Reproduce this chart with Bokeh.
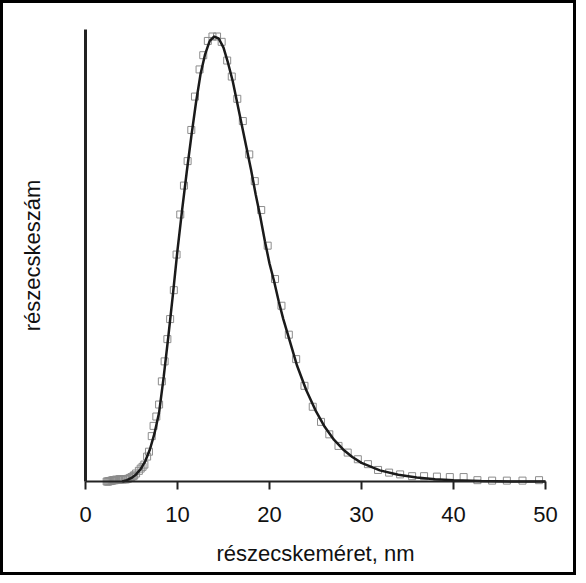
from bokeh.plotting import figure
from bokeh.models import FixedTicker, Range1d
from bokeh.embed import file_html
from bokeh.resources import INLINE

# measured particle-size distribution (squares), log-spaced sizes in nm
size_nm = [2.3, 2.4, 2.5, 2.6, 2.7, 2.8, 2.9, 3.0, 3.1, 3.2, 3.3, 3.4, 3.6, 3.7, 3.8,
           4.0, 4.1, 4.3, 4.4, 4.6, 4.8, 5.0, 5.2, 5.3, 5.5, 5.8, 6.0, 6.2, 6.4, 6.7,
           6.9, 7.2, 7.4, 7.7, 8.0, 8.3, 8.6, 8.9, 9.2, 9.6, 9.9, 10.3, 10.7, 11.1,
           11.5, 11.9, 12.4, 12.8, 13.3, 13.8, 14.3, 14.8, 15.4, 15.9, 16.5, 17.1,
           17.8, 18.4, 19.1, 19.8, 20.6, 21.3, 22.1, 22.9, 23.8, 24.7, 25.6, 26.5,
           27.5, 28.5, 29.6, 30.7, 31.8, 33.0, 34.2, 35.5, 36.8, 38.2, 39.6, 41.1,
           42.6, 44.2, 45.8, 47.5, 49.3]
count_meas = [0.0, 0.0, 0.0, 0.1, 0.1, 0.2, 0.2, 0.3, 0.3, 0.3, 0.4, 0.4, 0.4, 0.5, 0.5,
              0.5, 0.5, 0.5, 0.5, 0.6, 0.8, 1.0, 1.2, 1.4, 1.8, 2.4, 2.9, 3.3, 3.8, 5.6,
              6.7, 10.2, 12.5, 14.6, 17.3, 22.5, 27.0, 32.0, 36.5, 43.0, 51.0, 60.0, 66.5, 72.0,
              79.0, 86.5, 92.6, 95.8, 99.0, 100.0, 100.0, 98.8, 94.6, 91.0, 86.0, 81.0,
              73.5, 67.5, 61.0, 53.0, 45.5, 39.5, 33.0, 27.5, 21.5, 16.8, 13.4, 10.6,
              8.0, 6.5, 5.0, 3.9, 2.6, 2.0, 1.6, 1.2, 1.2, 1.1, 1.0, 1.0,
              0.3, 0.2, 0.2, 0.2, 0.3]

# fitted distribution curve
fit_nm = [4.0, 4.5, 5.0, 5.5, 6.0, 6.5, 7.0, 7.5, 8.0, 8.5, 9.0, 9.5, 10.0, 10.5, 11.0,
          11.5, 12.0, 12.5, 13.0, 13.5, 14.0, 14.5, 15.0, 15.5, 16.0, 16.5, 17.0, 17.5,
          18.0, 18.5, 19.0, 19.5, 20.0, 20.5, 21.0, 21.5, 22.0, 23.0, 24.0, 25.0, 26.0,
          27.0, 28.0, 29.0, 30.0, 32.0, 34.0, 36.0, 38.0, 40.0, 43.0, 47.0, 50.0]
fit_count = [0.0, 0.3, 0.8, 1.6, 2.8, 4.6, 7.2, 10.8, 15.5, 23.5, 32.5, 42.0, 52.0, 61.0, 69.5,
             77.5, 85.0, 91.5, 96.0, 99.0, 100.0, 99.5, 97.5, 94.0, 90.0, 85.0, 80.0, 75.0,
             70.0, 64.5, 59.5, 54.0, 49.0, 45.0, 40.5, 36.5, 33.0, 26.0, 20.5, 16.0, 12.3,
             9.4, 7.2, 5.5, 4.2, 2.5, 1.5, 0.9, 0.5, 0.3, 0.1, 0.0, 0.0]

x_ticks = [0, 10, 20, 30, 40, 50]
x_title = "részecskeméret, nm"
y_title = "részecskeszám"

W, H = 576, 575
p = figure(width=W, height=H, output_backend="svg", toolbar_location=None,
           x_range=Range1d(-9.239, 53.37), y_range=Range1d(-21.12, 108.09),
           min_border_left=0, min_border_right=0, min_border_top=0, min_border_bottom=0)

p.background_fill_color = "white"
p.border_fill_color = "white"
p.outline_line_color = "black"
p.outline_line_width = 5
p.grid.visible = False

p.scatter(size_nm, count_meas, marker="square", size=7, fill_color=None,
          line_color="#8c8c8c", line_width=1)
p.line(fit_nm, fit_count, line_color="#1a1a1a", line_width=2.5)

xa = p.xaxis[0]
xa.fixed_location = 0
xa.bounds = (0, 50)
xa.ticker = FixedTicker(ticks=x_ticks)
xa.minor_tick_line_color = None
xa.major_tick_in = 0
xa.major_tick_out = 8
xa.major_tick_line_width = 2
xa.major_tick_line_color = "#222222"
xa.axis_line_width = 2
xa.axis_line_color = "#222222"
xa.major_label_text_font = "Liberation Sans"
xa.major_label_text_font_size = "22px"
xa.major_label_text_color = "#111111"
xa.major_label_standoff = 17
xa.axis_label = x_title
xa.axis_label_text_font = "Liberation Sans"
xa.axis_label_text_font_size = "22px"
xa.axis_label_text_font_style = "normal"
xa.axis_label_text_color = "#111111"
xa.axis_label_standoff = 16

ya = p.yaxis[0]
ya.fixed_location = 0
ya.bounds = (0, 101.6)
ya.ticker = FixedTicker(ticks=[])
ya.minor_tick_line_color = None
ya.major_tick_in = 0
ya.major_tick_out = 0
ya.axis_line_width = 3
ya.axis_line_color = "#222222"
ya.axis_label = y_title
ya.axis_label_text_font = "Liberation Sans"
ya.axis_label_text_font_size = "22px"
ya.axis_label_text_font_style = "normal"
ya.axis_label_text_color = "#111111"
ya.axis_label_standoff = 41

open("out.html", "w").write(file_html(p, INLINE))
